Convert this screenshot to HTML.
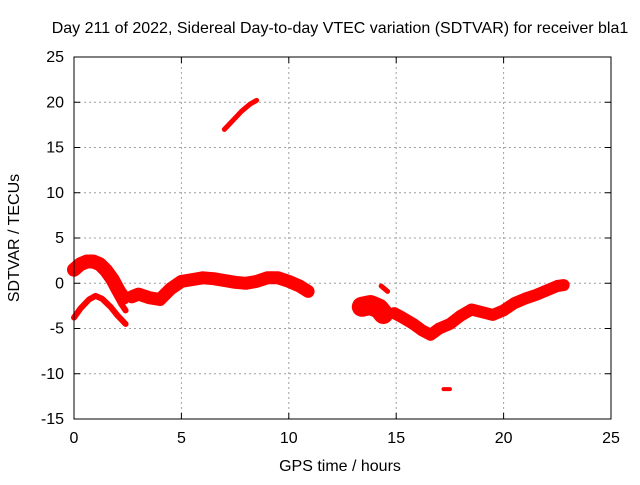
<!DOCTYPE html>
<html><head><meta charset="utf-8"><style>
body{margin:0;background:#fff}
svg text{font-family:"Liberation Sans",sans-serif;font-size:16px;fill:#000}
</style></head><body>
<svg id="chart" width="640" height="480" xmlns="http://www.w3.org/2000/svg">
<rect width="640" height="480" fill="#fff"/>
<g id="grid"></g>
<g id="series"></g>
<rect x="74" y="57" width="537" height="362" fill="none" stroke="#000" stroke-width="1"/>
<g id="ticks"></g>
<text x="340" y="33" text-anchor="middle">Day 211 of 2022, Sidereal Day-to-day VTEC variation (SDTVAR) for receiver bla1</text>
<text x="340" y="471" text-anchor="middle">GPS time / hours</text>
<text transform="translate(19,238) rotate(-90)" text-anchor="middle">SDTVAR / TECUs</text>
</svg>
<script>
const xTicks=[0,5,10,15,20,25];
const yTicks=[25,20,15,10,5,0,-5,-10,-15];
const segA_t=[0,0.3,0.6,0.9,1.2,1.5,1.8,2.1,2.3];
const segA_v=[1.5,2.1,2.4,2.4,2.1,1.4,0.4,-0.9,-1.6];
const segA2_t=[1.3,1.6,1.9,2.2,2.4];
const segA2_v=[1.4,0.3,-1.0,-2.3,-3.0];
const segB_t=[0,0.3,0.7,1.0,1.3,1.7,2.0,2.4];
const segB_v=[-3.8,-2.8,-1.8,-1.4,-1.7,-2.6,-3.5,-4.5];
const segC_t=[2.7,3.0,3.5,4.0,4.5,5.0,5.5,6.0,6.5,7.0,7.5,8.0,8.5,9.0,9.5,10.0,10.5,10.9];
const segC_v=[-1.5,-1.2,-1.6,-1.8,-0.6,0.2,0.4,0.6,0.5,0.3,0.1,0.0,0.2,0.6,0.6,0.2,-0.3,-0.9];
const segD_t=[7.0,7.4,7.8,8.2,8.5];
const segD_v=[17.0,18.0,19.0,19.8,20.2];
const segE_t=[13.4,13.8,14.2,14.4];
const segE_v=[-2.6,-2.4,-2.8,-3.4];
const segF_t=[14.3,14.6];
const segF_v=[-0.3,-0.9];
const segG_t=[14.9,15.3,15.8,16.2,16.6,17.0,17.5,18.0,18.5,19.0,19.5,20.0,20.5,21.0,21.5,22.0,22.5,22.8];
const segG_v=[-3.3,-3.8,-4.5,-5.2,-5.7,-5.0,-4.5,-3.6,-2.9,-3.2,-3.5,-3.0,-2.2,-1.7,-1.3,-0.8,-0.3,-0.2];
const segH_t=[17.2,17.5];
const segH_v=[-11.7,-11.7];

const X=h=>74+h*537/25;
const Y=v=>57+(25-v)*362/40;
const NS="http://www.w3.org/2000/svg";
const grid=document.getElementById('grid'),ticks=document.getElementById('ticks'),ser=document.getElementById('series');
function mk(tag,attrs,parent){const e=document.createElementNS(NS,tag);for(const k in attrs)e.setAttribute(k,attrs[k]);parent.appendChild(e);return e;}
xTicks.forEach(t=>{
  const x=X(t);
  if(t>0&&t<25){const g=mk('line',{x1:x,x2:x,y1:57,y2:419,stroke:'#a0a0a0','stroke-dasharray':'2,3'},grid);
  
  }
  mk('line',{x1:x,x2:x,y1:419,y2:413,stroke:'#000'},ticks);
  mk('line',{x1:x,x2:x,y1:57,y2:63,stroke:'#000'},ticks);
  const l=mk('text',{x:x,y:443,'text-anchor':'middle'},ticks);l.textContent=t;
  
  
});
yTicks.forEach(t=>{
  const y=Y(t);
  if(t>-15&&t<25){const g=mk('line',{x1:74,x2:611,y1:y,y2:y,stroke:'#a0a0a0','stroke-dasharray':'2,3'},grid);
  
  }
  mk('line',{x1:74,x2:80,y1:y,y2:y,stroke:'#000'},ticks);
  mk('line',{x1:611,x2:605,y1:y,y2:y,stroke:'#000'},ticks);
  const l=mk('text',{x:64,y:y+5,'text-anchor':'end'},ticks);l.textContent=t;
  
  
});
const segs=[[segA_t,segA_v,14],[segA2_t,segA2_v,6],[segB_t,segB_v,6],[segC_t,segC_v,13],[segD_t,segD_v,5],[segE_t,segE_v,20],[segF_t,segF_v,5],[segG_t,segG_v,12],[segH_t,segH_v,4]];
segs.forEach(([ts,vs,w])=>{
  const pts=ts.map((t,i)=>X(t).toFixed(1)+','+Y(vs[i]).toFixed(1)).join(' ');
  const p=mk('polyline',{points:pts,fill:'none',stroke:'#ff0000','stroke-width':w,'stroke-linejoin':'round','stroke-linecap':'round'},ser);
  
  
});
</script>
</body></html>
